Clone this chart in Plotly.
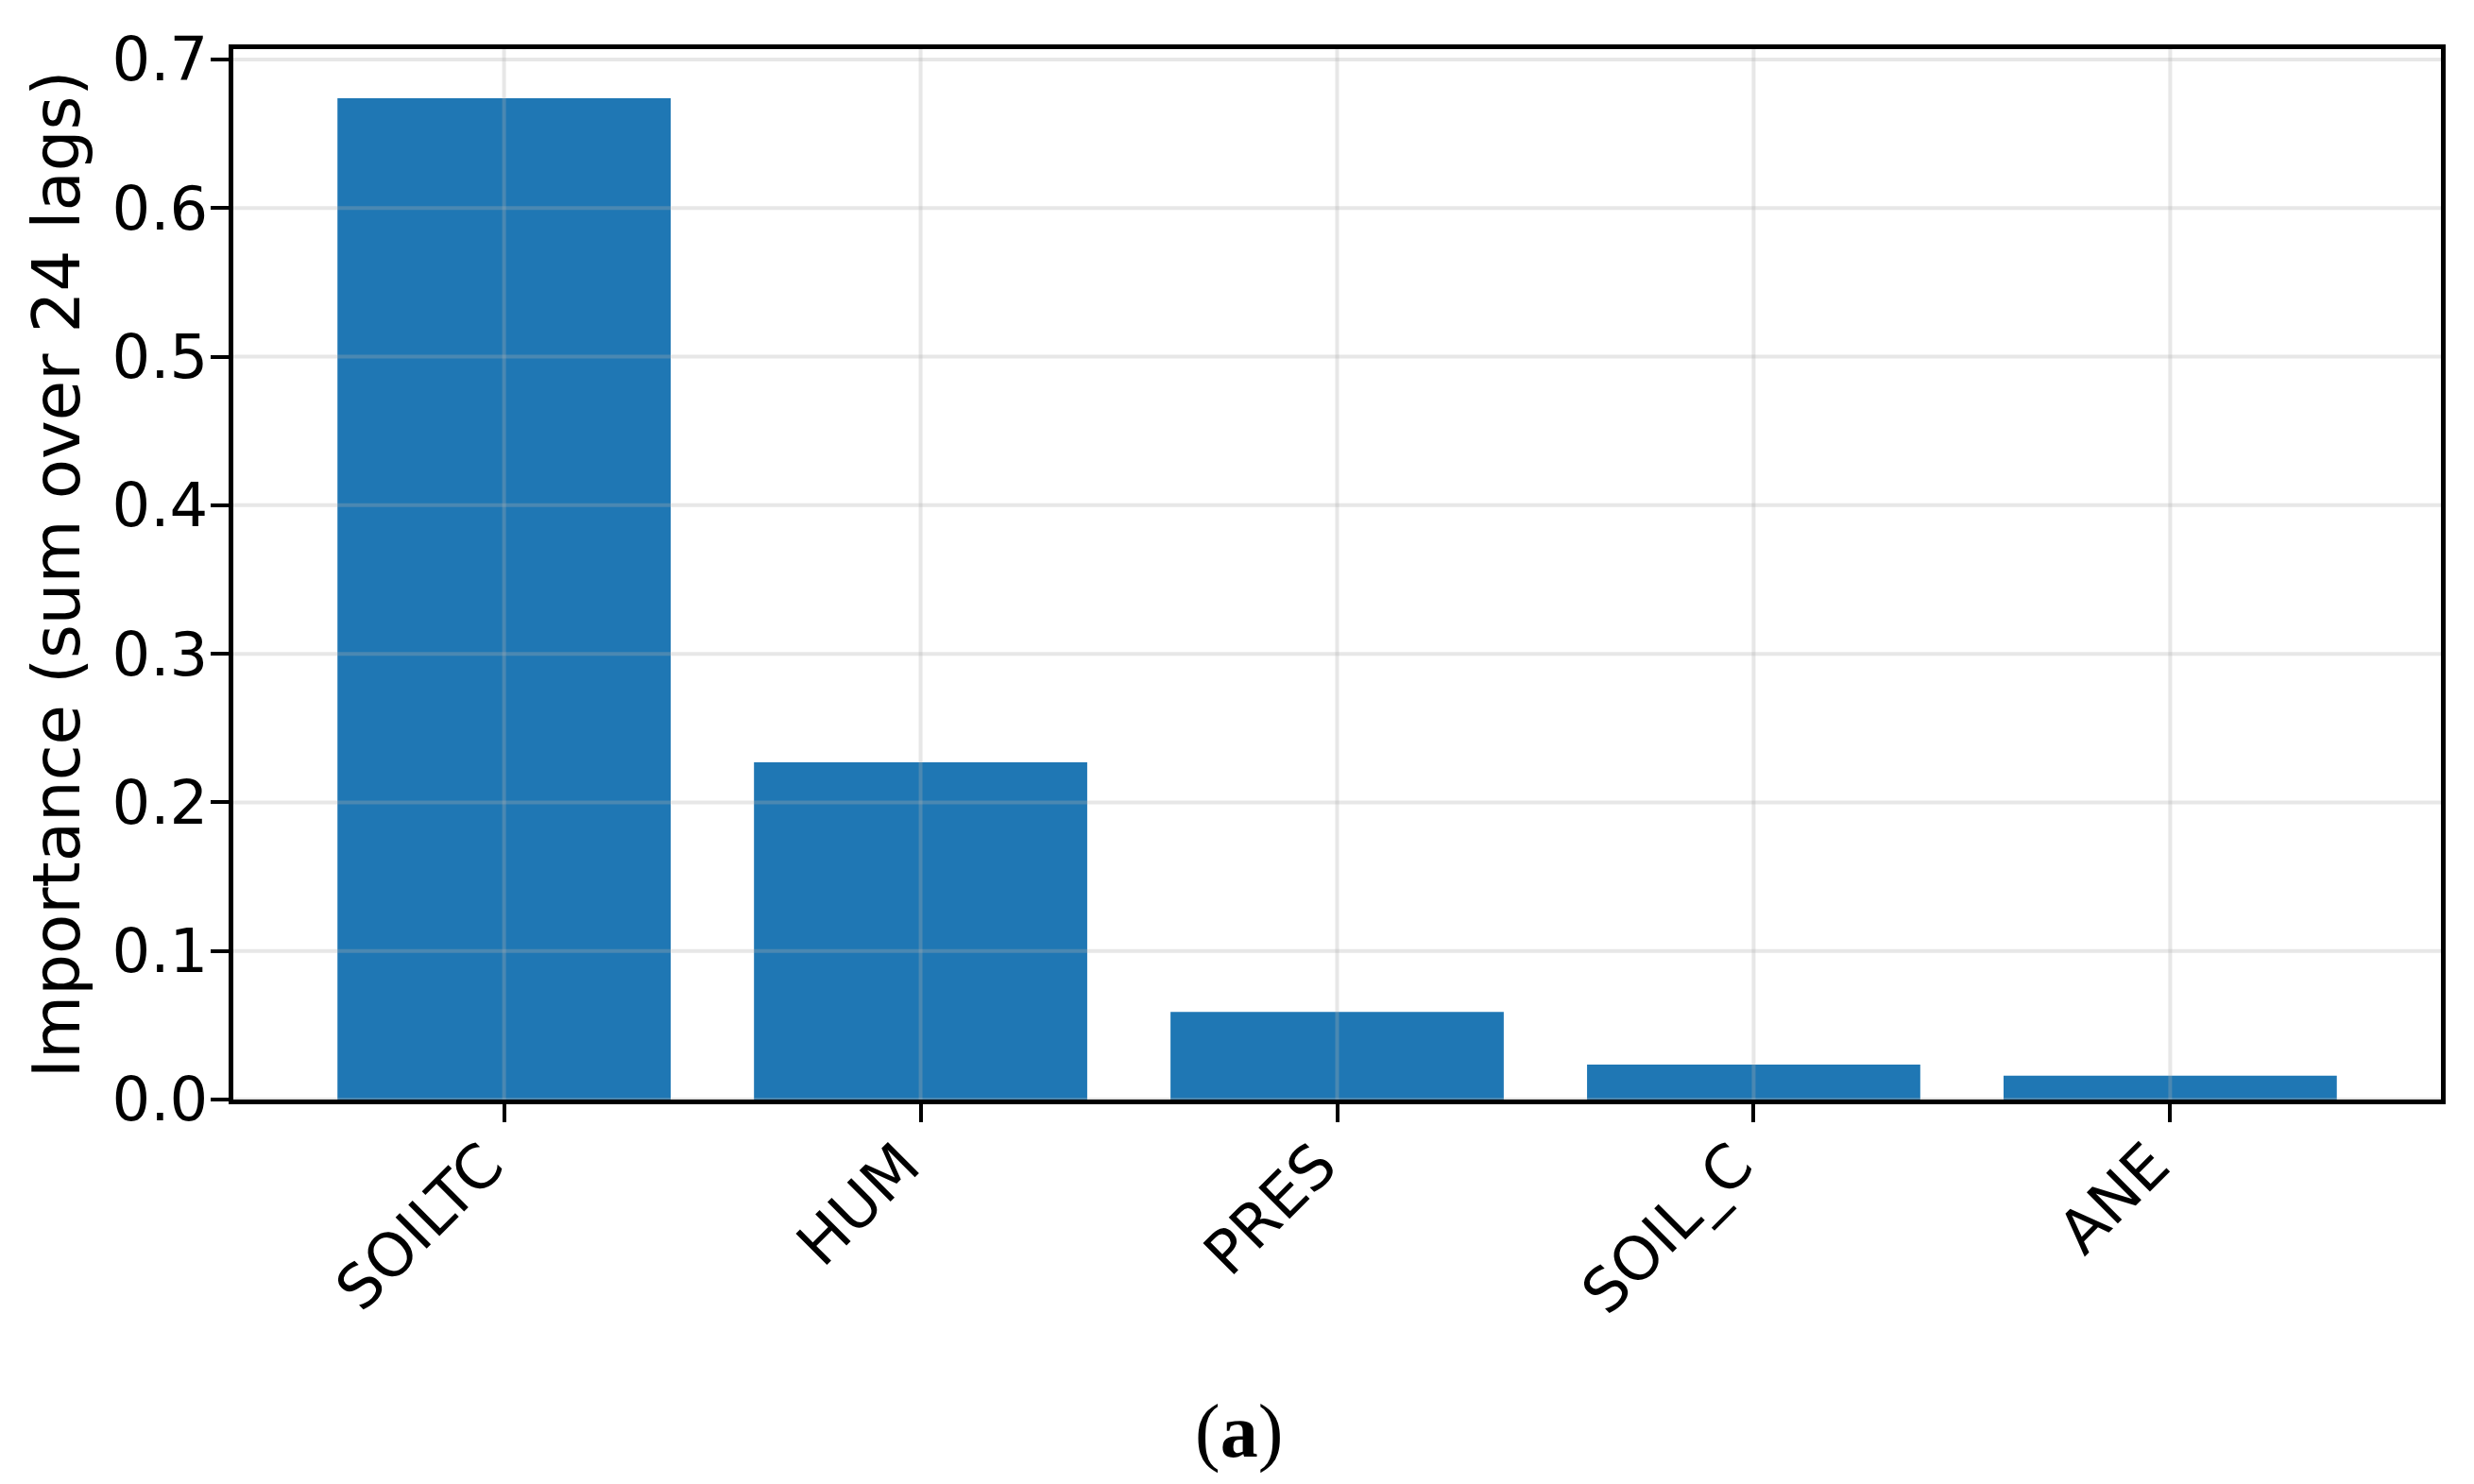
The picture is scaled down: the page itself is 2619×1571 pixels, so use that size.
import plotly.graph_objects as go

# Data
categories = ["SOILTC", "HUM", "PRES", "SOIL_C", "ANE"]
importance = [0.674, 0.227, 0.059, 0.0235, 0.016]
y_ticks = [0.0, 0.1, 0.2, 0.3, 0.4, 0.5, 0.6, 0.7]
y_tick_labels = ["0.0", "0.1", "0.2", "0.3", "0.4", "0.5", "0.6", "0.7"]
y_title = "Importance (sum over 24 lags)"
caption = "<b>a</b>"

W, H = 2619, 1571
FONT = "DejaVu Sans"
FS = 64
OFF = 8  # browser body margin

fig = go.Figure()
fig.add_trace(go.Bar(
    x=categories, y=importance, width=0.8,
    marker=dict(color="#1f77b4", line=dict(width=0)),
    showlegend=False,
))

grid_color = "rgba(176,176,176,0.3)"
shapes = []
for c in categories:
    shapes.append(dict(type="line", xref="x", yref="paper", x0=c, x1=c, y0=0, y1=1,
                       line=dict(color=grid_color, width=4), layer="above"))
for v in y_ticks:
    shapes.append(dict(type="line", xref="paper", yref="y", x0=0, x1=1, y0=v, y1=v,
                       line=dict(color=grid_color, width=4), layer="above"))

fig.update_layout(
    width=W, height=H,
    margin=dict(l=247 - OFF, r=35 + OFF, t=52 - OFF, b=407 + OFF, autoexpand=False),
    paper_bgcolor="white", plot_bgcolor="white",
    font=dict(family=FONT, size=FS, color="black"),
    shapes=shapes,
    xaxis=dict(
        type="category", range=[-0.65, len(categories) - 0.35],
        tickangle=-45, ticks="outside", ticklen=19, tickwidth=4, tickcolor="black",
        ticklabelshift=-20, ticklabelstandoff=-18,
        showline=True, linecolor="black", linewidth=5, mirror=True,
        showgrid=False, zeroline=False,
        tickfont=dict(family=FONT, size=FS, color="black"),
        layer="above traces",
    ),
    yaxis=dict(
        range=[0, 0.707], tickvals=y_ticks, ticktext=y_tick_labels,
        ticks="outside", ticklen=19, tickwidth=4, tickcolor="black",
        ticklabelstandoff=-10,
        showline=True, linecolor="black", linewidth=5, mirror=True,
        showgrid=False, zeroline=False,
        tickfont=dict(family=FONT, size=FS, color="black"),
        title=dict(text=y_title, font=dict(family=FONT, size=69, color="black"), standoff=13),
        layer="above traces",
    ),
    annotations=[dict(
        text="(" + caption + ")", xref="paper", yref="paper",
        x=(1311 - 247) / (2584 - 247), y=-(1515 - 1164) / (1164 - 52),
        xanchor="center", yanchor="middle", showarrow=False,
        font=dict(family="Liberation Serif", size=80, color="black"),
    )],
)

fig.write_html("out.html")
